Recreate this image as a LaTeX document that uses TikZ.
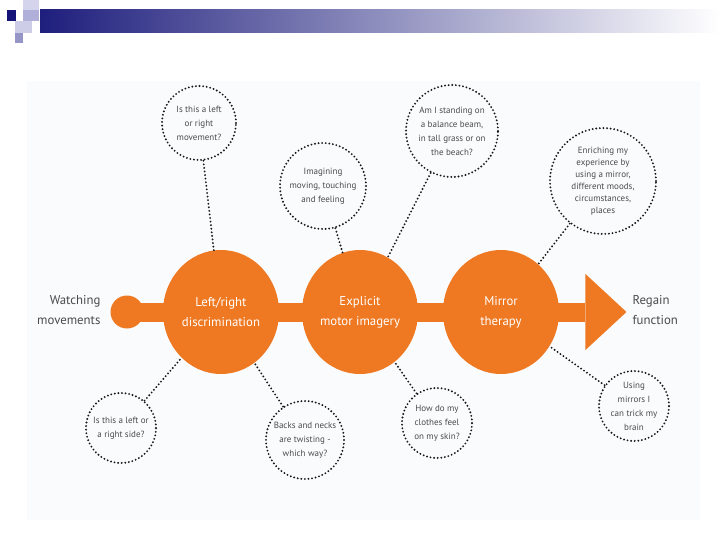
\documentclass[tikz,border=0pt]{standalone}
\usepackage{fontspec}
\setmainfont{PT Sans}
\usetikzlibrary{shapes.geometric}
\definecolor{orng}{RGB}{239,121,34}
\definecolor{txtg}{RGB}{75,75,75}
\definecolor{navyb}{RGB}{30,30,125}
\definecolor{paper}{RGB}{250,251,253}
\definecolor{sqa}{RGB}{20,20,120}
\definecolor{sqb}{RGB}{212,212,236}
\definecolor{sqc}{RGB}{175,175,218}
\definecolor{sqd}{RGB}{205,205,232}
\definecolor{sqe}{RGB}{150,150,198}
\begin{document}
\begin{tikzpicture}[x=1pt,y=-1pt,
  bubble/.style={circle, draw=black!90, line width=2.1pt, dash pattern=on 0pt off 3.6pt, line cap=round,
    align=center, font=\fontsize{9}{14}\selectfont, text=txtg, inner sep=0pt},
  dotline/.style={draw=black!90, line width=2.1pt, dash pattern=on 0pt off 3.6pt, line cap=round},
  stage/.style={ellipse, fill=orng, minimum width=116pt, minimum height=124pt, inner sep=0pt, align=center,
    text=white, font=\fontsize{12.8}{20}\selectfont},
  lbl/.style={text=txtg, font=\fontsize{12.8}{20}\selectfont}]
\useasboundingbox (0,0) rectangle (720,540);
\fill[white] (0,0) rectangle (720,540);
\fill[paper] (27,81) rectangle (700,520);
% header
\shade[left color=navyb, right color=white] (40,10) rectangle (720,33);
\fill[sqa] (7,10) rectangle (16,21);
\fill[sqb] (23,0) rectangle (39,10);
\fill[sqc] (23,10) rectangle (39,21);
\fill[sqd] (15,21) rectangle (32,33);
\fill[sqe] (15,33) rectangle (23,43);
% main flow
\node[circle, fill=orng, minimum size=33pt, inner sep=0pt] (c0) at (127,312) {};
\node[isosceles triangle, isosceles triangle stretches, fill=orng, minimum height=41pt, minimum width=76pt,
  inner sep=0pt, anchor=apex] (arr) at (627,312) {};
\draw[orng, line width=19pt] (c0.center) -- (arr.west);
\node[stage] (c1) at (221,312) {Left/right\\discrimination};
\node[stage] (c2) at (360,312) {Explicit\\motor imagery};
\node[stage] (c3) at (501,312) {Mirror\\therapy};
\node[lbl, align=right, anchor=east] (w) at (104,310) {Watching\\movements};
\node[lbl, align=left, anchor=west] (r) at (629,310) {Regain\\function};
% bubbles
\node[bubble, minimum size=74pt] (b1) at (199,123) {Is this a left\\or right\\movement?};
\node[bubble, minimum size=86pt] (b2) at (323,186) {Imagining\\moving, touching\\and feeling};
\node[bubble, minimum size=92pt] (b3) at (452,131) {Am I standing on\\a balance beam,\\in tall grass or on\\the beach?};
\node[bubble, minimum size=106pt, font=\fontsize{9}{12}\selectfont] (b4) at (603,181)
  {Enriching my\\experience by\\using a mirror,\\different moods,\\circumstances,\\places};
\node[bubble, minimum size=70pt] (b5) at (121,428) {Is this a left or\\a right side?};
\node[bubble, minimum size=78pt] (b6) at (305,440) {Backs and necks\\are twisting -\\which way?};
\node[bubble, minimum size=70pt] (b7) at (437,423) {How do my\\clothes feel\\on my skin?};
\node[bubble, minimum size=70pt] (b8) at (634,406) {Using\\mirrors I\\can trick my\\brain};
% connectors
\draw[dotline] (b1) -- (c1);
\draw[dotline] (b2) -- (c2);
\draw[dotline] (b3) -- (c2);
\draw[dotline] (b4) -- (c3);
\draw[dotline] (b5) -- (c1);
\draw[dotline] (b6) -- (c1);
\draw[dotline] (b7) -- (c2);
\draw[dotline] (b8) -- (c3);
\end{tikzpicture}
\end{document}
